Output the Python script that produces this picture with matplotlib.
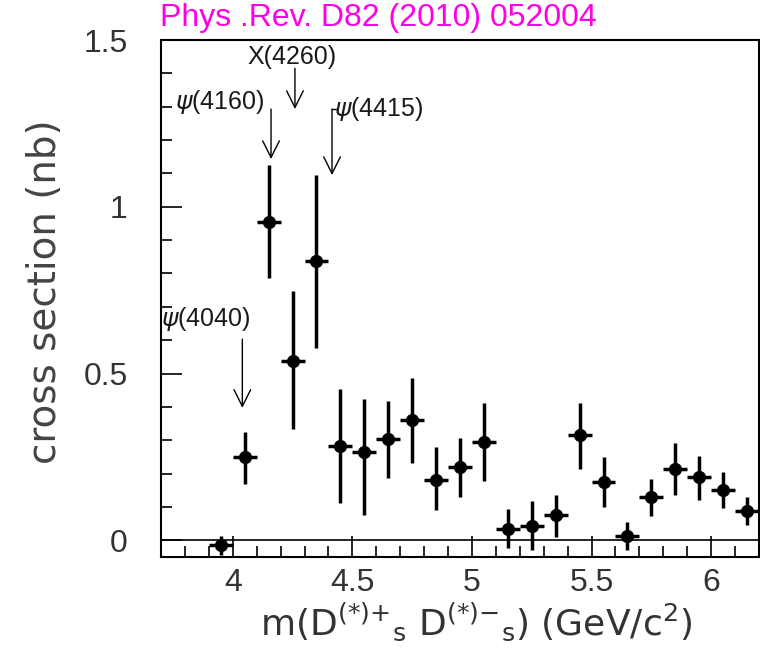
import matplotlib.pyplot as plt
import numpy as np
from matplotlib.ticker import MultipleLocator

# bin centres (GeV/c^2) and measured cross section (nb)
mass = [3.95, 4.05, 4.15, 4.25, 4.35, 4.45, 4.55, 4.65, 4.75, 4.85, 4.95, 5.05,
        5.15, 5.25, 5.35, 5.45, 5.55, 5.65, 5.75, 5.85, 5.95, 6.05, 6.15]
xsec = [-0.015, 0.249, 0.955, 0.539, 0.836, 0.282, 0.264, 0.303, 0.360, 0.182, 0.221, 0.296,
        0.035, 0.043, 0.075, 0.315, 0.174, 0.013, 0.129, 0.214, 0.191, 0.152, 0.088]
err_lo = [0.030, 0.081, 0.170, 0.204, 0.259, 0.169, 0.187, 0.116, 0.129, 0.092, 0.090, 0.117,
          0.058, 0.071, 0.065, 0.101, 0.073, 0.041, 0.057, 0.078, 0.069, 0.056, 0.043]
err_hi = [0.027, 0.075, 0.170, 0.207, 0.259, 0.171, 0.159, 0.115, 0.128, 0.099, 0.086, 0.117,
          0.060, 0.074, 0.062, 0.098, 0.075, 0.042, 0.055, 0.078, 0.063, 0.054, 0.041]
bin_half = 0.05

# resonance markers
res_labels = [r'$\psi$(4040)', r'$\psi$(4160)', 'X(4260)', r'$\psi$(4415)']
res_mass = [4.04, 4.16, 4.26, 4.415]
arrow_top = [0.603, 1.293, 1.415, 1.293]
arrow_tip = [0.397, 1.143, 1.293, 1.095]
lab_x = [3.698, 3.758, 4.063, 4.425]
lab_y = [0.663, 1.313, 1.448, 1.293]

plt.rcParams['font.family'] = ['Liberation Sans', 'DejaVu Sans']

fig = plt.figure(figsize=(7.6, 6.5), dpi=100)
ax = fig.add_axes([161/760, 1 - 557/650, 598/760, 517/650])

ax.errorbar(mass, xsec, yerr=[err_lo, err_hi], xerr=bin_half, fmt='o', color='black',
            ms=8.5, elinewidth=2.5, capsize=0, zorder=3)
ax.axhline(0, color='black', lw=1.2, zorder=2)

for lab, m, t0, t1, lx, ly in zip(res_labels, res_mass, arrow_top, arrow_tip, lab_x, lab_y):
    ax.annotate('', xy=(m, t1), xytext=(m, t0),
                arrowprops=dict(arrowstyle='->,head_length=0.6,head_width=0.3',
                                color='black', lw=1.0, mutation_scale=20,
                                shrinkA=0, shrinkB=0))
    ax.text(lx, ly, lab, fontsize=18, ha='left', va='center', color='#1a1a1a',
            clip_on=False)
# little hook at the top of the psi(4415) arrow
ax.plot([4.415, 4.43], [1.293, 1.293], color='black', lw=1.0)

ax.set_xlim(3.7, 6.2)
ax.set_ylim(-0.05, 1.5)
ax.xaxis.set_minor_locator(MultipleLocator(0.1))
ax.yaxis.set_minor_locator(MultipleLocator(0.1))
ax.set_xticks([4, 4.5, 5, 5.5, 6])
ax.set_xticklabels(['4', '4.5', '5', '5.5', '6'])
ax.set_yticks([0, 0.5, 1, 1.5])
ax.set_yticklabels(['0', '0.5', '1', '1.5'])
ax.tick_params(which='both', direction='in', top=False, right=False, width=1.2,
               labelsize=23, labelcolor='#333333')
ax.tick_params(which='major', length=15)
ax.tick_params(which='minor', length=8)
ax.tick_params(axis='y', pad=24)
ax.tick_params(axis='x', pad=8)
for s in ax.spines.values():
    s.set_linewidth(1.5)

fig.text(45/760, 1 - 292/650, 'cross section (nb)', rotation=90, ha='center', va='center',
         fontsize=28, color='#444444', family='DejaVu Sans')
fig.text(476/760, 1 - 622/650,
         r'm(D$^{(*){+}}{}_{\mathrm{s}}$ D$^{(*){-}}{}_{\mathrm{s}}$) (GeV/c$^{2}$)',
         ha='center', va='center', fontsize=26, color='#333333', family='DejaVu Sans')
fig.text(160/760, 1 - 18/650, 'Phys .Rev. D82 (2010) 052004', ha='left', va='center',
         fontsize=23, color='#ff00e6')

fig.savefig('out.png', dpi=100)
